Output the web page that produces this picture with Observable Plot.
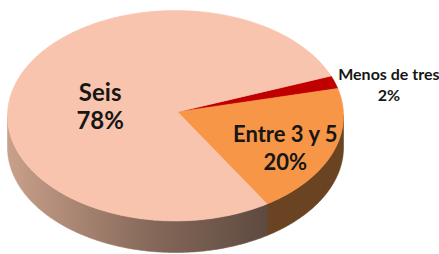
<!DOCTYPE html>
<html><head><meta charset="utf-8">
<script src="https://cdn.jsdelivr.net/npm/d3@7"></script>
<script src="https://cdn.jsdelivr.net/npm/@observablehq/plot@0.6"></script>
<style>body{margin:0;background:#fff}</style>
</head><body><div id="chart"></div>
<script>
// ---- data ----
const categories = ["Menos de tres", "Entre 3 y 5", "Seis"];
const shares = [2, 20, 78];
const shareLabels = ["2%", "20%", "78%"];

// ---- styling / layout (not data) ----
const topColors = ["#C00000", "#F79646", "#F9C4AD"];
const sideColors = ["#700000", "#6A4322", "url(#seisSide)"];
const startDeg = -22.2;      // where the first slice begins (parametric angle)
const depth = 0.3;           // thickness of the disc, in radius units
const apex = [0.012, -0.036];
const labelR = [1.34, 0.70, 0.47];
const labelDy = [13, 5, 5];
const labelSize = [16, 22, 24];
const labelLH = [1.28, 1.27, 1.17];

const total = d3.sum(shares);
let acc = startDeg;
const slices = shares.map((v, i) => {
  const a0 = acc, a1 = acc + v / total * 360;
  acc = a1;
  return {i, cat: categories[i], a0, a1, mid: (a0 + a1) / 2};
});
const rad = d => d * Math.PI / 180;
const angles = (a0, a1) => {
  const n = Math.max(2, Math.ceil(Math.abs(a1 - a0)));
  return d3.range(n + 1).map(k => a0 + (a1 - a0) * k / n);
};

// top faces
const topFaces = slices.map(s => [
  {x: apex[0], y: apex[1]},
  ...angles(s.a0, s.a1).map(a => ({x: Math.cos(rad(a)), y: Math.sin(rad(a))})),
  {x: apex[0], y: apex[1]}
]);

// visible side walls (front half: 0..180 deg)
const sideFaces = [];
slices.forEach(s => {
  for (const shift of [-360, 0, 360]) {
    const lo = Math.max(0, s.a0 + shift), hi = Math.min(180, s.a1 + shift);
    if (hi > lo) {
      const upper = angles(lo, hi).map(a => ({x: Math.cos(rad(a)), y: Math.sin(rad(a))}));
      const lower = angles(hi, lo).map(a => ({x: Math.cos(rad(a)), y: Math.sin(rad(a)) + depth}));
      sideFaces.push({i: s.i, pts: [...upper, ...lower, upper[0]]});
    }
  }
});

const marks = [];
sideFaces.forEach(f => marks.push(Plot.line(f.pts, {x: "x", y: "y", fill: sideColors[f.i], stroke: sideColors[f.i], strokeWidth: 0.6})));
topFaces.forEach((pts, i) => marks.push(Plot.line(pts, {x: "x", y: "y", fill: topColors[i], stroke: topColors[i], strokeWidth: 0.6})));
slices.forEach(s => {
  marks.push(Plot.text([s], {
    x: d => labelR[d.i] * Math.cos(rad(d.mid)),
    y: d => labelR[d.i] * Math.sin(rad(d.mid)),
    dy: labelDy[s.i],
    text: d => `${d.cat}\n${shareLabels[d.i]}`,
    fontSize: labelSize[s.i],
    lineHeight: labelLH[s.i],
    fontWeight: "bold",
    fontFamily: "Lato",
    fill: "#161616",
    lineAnchor: "middle"
  }));
});

const svg = Plot.plot({
  width: 439,
  height: 254,
  marginLeft: 7,
  marginRight: 96,
  marginTop: 10,
  marginBottom: 2,
  x: {domain: [-1, 1], axis: null},
  y: {domain: [-1, 1 + depth], axis: null, reverse: true},
  style: {background: "white", overflow: "visible"},
  marks
});

const defs = d3.select(svg).insert("defs", ":first-child");
const g = defs.append("linearGradient").attr("id", "seisSide").attr("x1", "0").attr("x2", "1").attr("y1", "0").attr("y2", "0");
g.append("stop").attr("offset", "0%").attr("stop-color", "#C9A08A");
g.append("stop").attr("offset", "55%").attr("stop-color", "#86695A");
g.append("stop").attr("offset", "100%").attr("stop-color", "#5E4A40");

document.getElementById("chart").appendChild(svg);
</script>
</body></html>
